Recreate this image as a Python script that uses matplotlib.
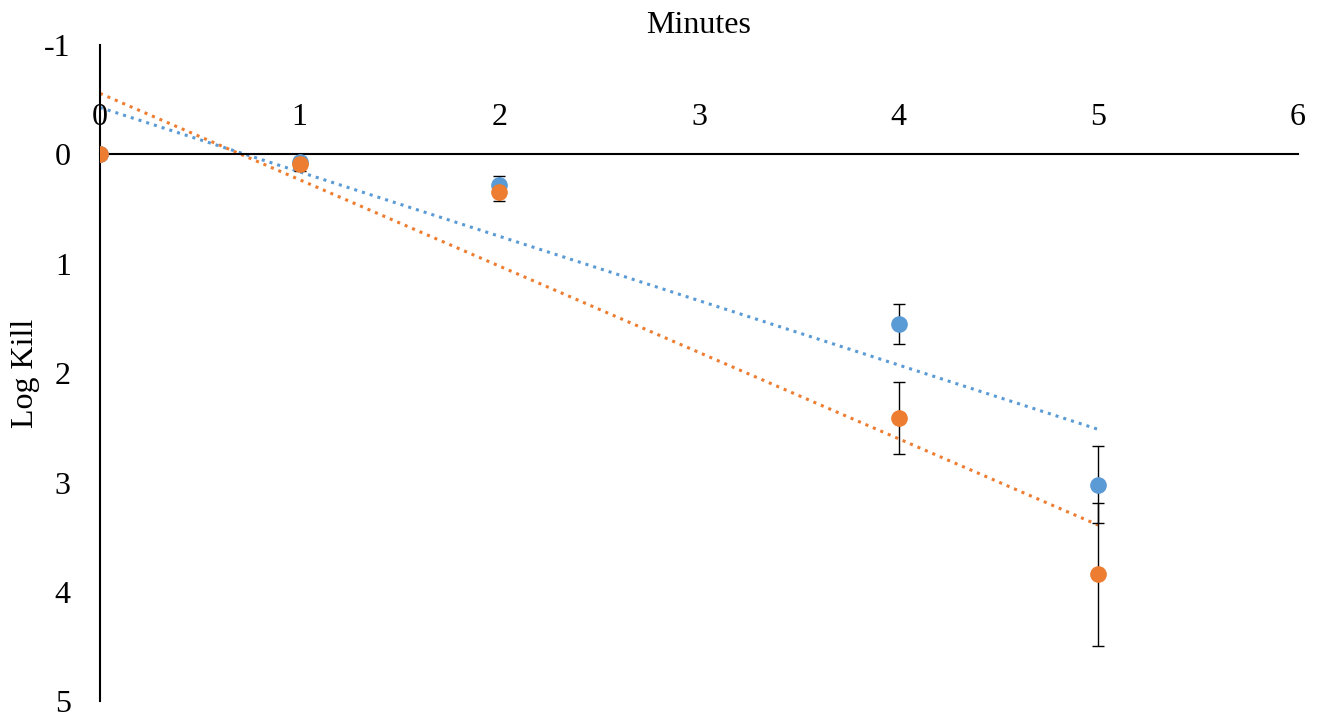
import numpy as np
import matplotlib
matplotlib.use("Agg")
from matplotlib import pyplot as plt

plt.rcParams['font.family'] = ['Liberation Serif', 'DejaVu Serif']
plt.rcParams['axes.unicode_minus'] = False

minutes = [0, 1, 2, 4, 5]
kill_a = [0, 0.07, 0.28, 1.55, 3.02]
err_a = [0, 0.05, 0.08, 0.185, 0.35]
kill_b = [0, 0.09, 0.345, 2.41, 3.84]
err_b = [0, 0.06, 0.085, 0.33, 0.65]

blue = '#5B9BD5'
orange = '#ED7D31'

fig = plt.figure(figsize=(13.24, 7.19), dpi=100)
ax = fig.add_axes([0.0755, 0.0245, 0.9049, 0.913])

x = np.array(minutes)
for y, e, c in [(kill_a, err_a, blue), (kill_b, err_b, orange)]:
    ax.errorbar(x, y, yerr=e, fmt='o', color=c, ms=11, ecolor='black',
                elinewidth=1, capsize=4.5, capthick=1, zorder=3)
    k, b = np.polyfit(x, y, 1)
    xs = np.array([0, 5])
    ax.plot(xs, k * xs + b, ':', color=c, lw=2.2, zorder=2)

ax.set_xlim(0, 6)
ax.set_ylim(5, -1)
ax.set_xticks(range(7))
ax.set_yticks(range(-1, 6))

ax.spines['right'].set_visible(False)
ax.spines['bottom'].set_visible(False)
ax.spines['top'].set_position(('data', 0))
ax.spines['left'].set_position(('data', 0))
for s in ['top', 'left']:
    ax.spines[s].set_linewidth(1.5)
ax.xaxis.set_ticks_position('top')
ax.tick_params(axis='x', length=0, pad=16, labelsize=23)
ax.tick_params(axis='y', length=0, pad=21, labelsize=23)

ax.set_xlabel('Minutes', fontsize=23)
ax.xaxis.set_label_position('top')
ax.xaxis.set_label_coords(0.5, 1.018)
ax.set_ylabel('Log Kill', fontsize=23)
ax.yaxis.set_label_coords(-0.05, 0.5)

fig.savefig('out.png', dpi=100)
